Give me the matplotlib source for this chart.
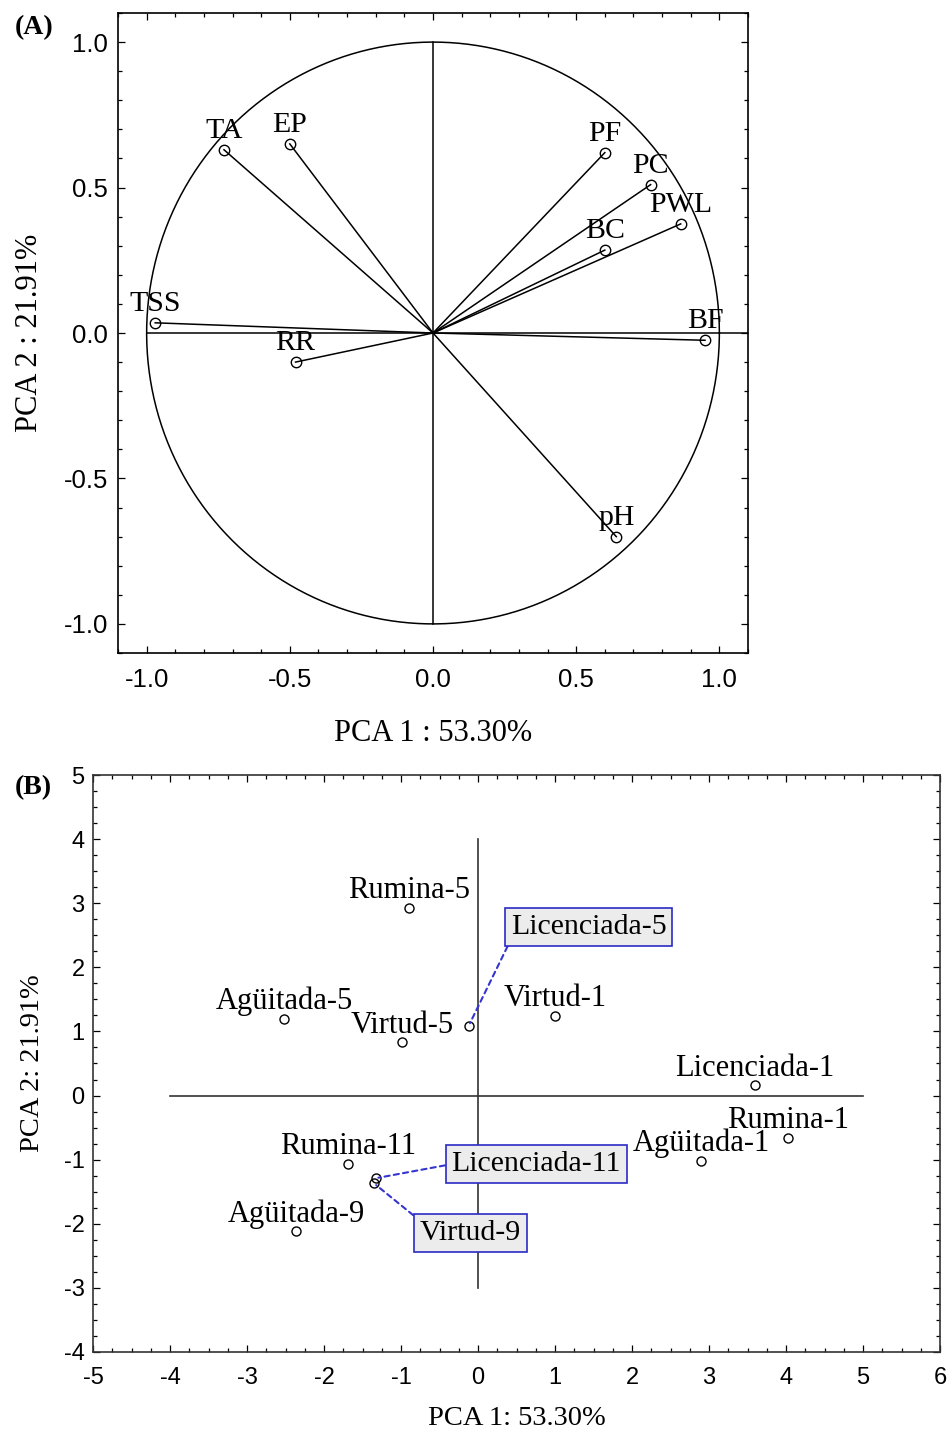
import matplotlib
matplotlib.use('Agg')
import matplotlib.pyplot as plt
import numpy as np
from matplotlib.ticker import MultipleLocator, FormatStrFormatter

plt.rcParams['axes.unicode_minus'] = False

# ---------------- Panel A: variable loadings ----------------
var_names = ['TA', 'EP', 'TSS', 'RR', 'PF', 'PC', 'PWL', 'BC', 'BF', 'pH']
load_pc1 = [-0.73, -0.50, -0.97, -0.48, 0.60, 0.76, 0.865, 0.60, 0.95, 0.64]
load_pc2 = [0.63, 0.65, 0.035, -0.10, 0.62, 0.51, 0.375, 0.285, -0.025, -0.70]
a_xlabel = 'PCA 1 : 53.30%'
a_ylabel = 'PCA 2 : 21.91%'
a_ticks = [-1.0, -0.5, 0.0, 0.5, 1.0]

# ---------------- Panel B: sample scores ----------------
samples = ['Rumina-5', 'Agüitada-5', 'Virtud-5', 'Licenciada-5', 'Virtud-1',
           'Licenciada-1', 'Rumina-1', 'Agüitada-1', 'Rumina-11',
           'Licenciada-11', 'Virtud-9', 'Agüitada-9']
score_pc1 = [-0.89, -2.52, -0.99, -0.12, 1.00, 3.60, 4.03, 2.90, -1.69, -1.33, -1.35, -2.36]
score_pc2 = [2.93, 1.20, 0.83, 1.09, 1.24, 0.16, -0.66, -1.02, -1.06, -1.29, -1.37, -2.12]
b_xlabel = 'PCA 1: 53.30%'
b_ylabel = 'PCA 2: 21.91%'
b_xticks = list(range(-5, 7))
b_yticks = list(range(-4, 6))

# boxed (callout) labels: text centre and the side of the box the leader starts from
boxed = {
    'Licenciada-5': ((1.435, 2.63), (0.0, 0.0)),
    'Licenciada-11': ((0.756, -1.07), (0.0, 0.5)),
    'Virtud-9': ((-0.10, -2.15), (0.0, 1.0)),
}

SERIF = ['Liberation Serif', 'DejaVu Serif']
SANS = ['Liberation Sans', 'DejaVu Sans']

fig = plt.figure(figsize=(9.49, 14.32), dpi=100)

# ===== Panel A =====
axA = fig.add_axes([118 / 949, 1 - 653 / 1432, 630 / 949, 640 / 1432])
axA.set_xlim(-1.1, 1.1)
axA.set_ylim(-1.1, 1.1)
theta = np.linspace(0, 2 * np.pi, 400)
axA.plot(np.cos(theta), np.sin(theta), color='black', lw=1.1)
axA.plot([-1, 1.1], [0, 0], color='black', lw=1.1)
axA.plot([0, 0], [-1, 1], color='black', lw=1.1)
for name, x, y in zip(var_names, load_pc1, load_pc2):
    axA.plot([0, x], [0, y], color='black', lw=1.1)
    axA.plot(x, y, marker='o', ms=7.5, mfc='none', mec='black', mew=1.0)
    axA.annotate(name, (x, y), xytext=(0, 8.5), textcoords='offset points',
                 ha='center', va='baseline', fontsize=21.5, family=SERIF)
axA.set_xticks(a_ticks)
axA.set_yticks(a_ticks)
axA.xaxis.set_minor_locator(MultipleLocator(0.1))
axA.yaxis.set_minor_locator(MultipleLocator(0.1))
axA.xaxis.set_major_formatter(FormatStrFormatter('%.1f'))
axA.yaxis.set_major_formatter(FormatStrFormatter('%.1f'))
axA.tick_params(which='both', direction='in', top=True, right=True, width=0.9)
axA.tick_params(which='major', length=5)
axA.tick_params(which='minor', length=3)
axA.tick_params(axis='x', which='major', pad=11)
axA.tick_params(axis='y', which='major', pad=7)
for lab in axA.get_xticklabels() + axA.get_yticklabels():
    lab.set_fontsize(18.5)
    lab.set_family(SANS)
for sp in axA.spines.values():
    sp.set_linewidth(1.2)
axA.set_xlabel(a_xlabel, fontsize=22, family=SERIF, va='center')
axA.set_ylabel(a_ylabel, fontsize=22, family=SERIF, va='center')
axA.xaxis.set_label_coords(0.5, -0.125)
axA.yaxis.set_label_coords(-0.14, 0.5)

# ===== Panel B =====
axB = fig.add_axes([93 / 949, 1 - 1352 / 1432, 847 / 949, 577 / 1432])
axB.set_xlim(-5, 6)
axB.set_ylim(-4, 5)
axB.plot([-4, 5], [0, 0], color='#333333', lw=1.2)
axB.plot([0, 0], [-3, 4], color='#333333', lw=1.2)
axB.plot(score_pc1, score_pc2, linestyle='none', marker='o', ms=6.5,
         mfc='none', mec='black', mew=1.0)
for name, x, y in zip(samples, score_pc1, score_pc2):
    if name in boxed:
        (tx, ty), rel = boxed[name]
        axB.annotate(name, (x, y), xytext=(tx, ty), textcoords='data',
                     ha='center', va='center', fontsize=21.5, family=SERIF,
                     bbox=dict(boxstyle='square,pad=0.2', fc='#ececec',
                               ec='#2a2ac4', lw=1.2),
                     arrowprops=dict(arrowstyle='-', color='#3535d0', lw=1.5,
                                     linestyle=(0, (2.5, 2)), relpos=rel,
                                     shrinkA=0, shrinkB=2))
    else:
        axB.annotate(name, (x, y), xytext=(0, 7), textcoords='offset points',
                     ha='center', va='baseline', fontsize=22, family=SERIF)
axB.set_xticks(b_xticks)
axB.set_yticks(b_yticks)
axB.xaxis.set_minor_locator(MultipleLocator(0.25))
axB.yaxis.set_minor_locator(MultipleLocator(0.25))
axB.tick_params(which='both', direction='in', top=True, right=True, width=0.9)
axB.tick_params(which='major', length=5)
axB.tick_params(which='minor', length=3)
axB.tick_params(axis='x', which='major', pad=11)
axB.tick_params(axis='y', which='major', pad=6)
for lab in axB.get_xticklabels() + axB.get_yticklabels():
    lab.set_fontsize(17)
    lab.set_family(SANS)
for sp in axB.spines.values():
    sp.set_linewidth(1.2)
    sp.set_color('#333333')
axB.set_xlabel(b_xlabel, fontsize=20.5, family=SERIF, va='center')
axB.set_ylabel(b_ylabel, fontsize=20.5, family=SERIF, va='center')
axB.xaxis.set_label_coords(0.5, -0.116)
axB.yaxis.set_label_coords(-0.072, 0.5)

# panel letters
fig.text(15 / 949, 1 - 34 / 1432, '(A)', fontsize=20, fontweight='bold', family=SERIF,
         ha='left', va='baseline')
fig.text(15 / 949, 1 - 794 / 1432, '(B)', fontsize=20, fontweight='bold', family=SERIF,
         ha='left', va='baseline')

fig.savefig('out.png', dpi=100)
